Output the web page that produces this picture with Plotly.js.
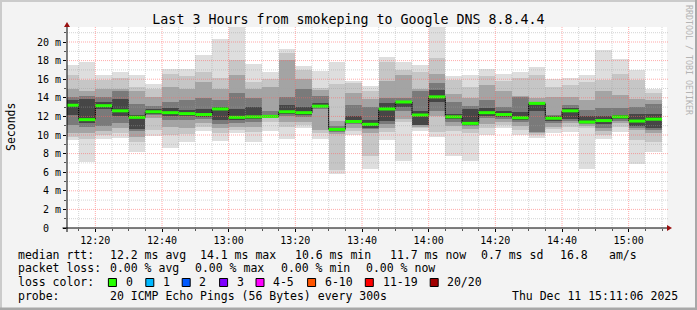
<!DOCTYPE html>
<html><head><meta charset="utf-8">
<script src="https://cdn.plot.ly/plotly-3.0.1.min.js"></script>
<style>html,body{margin:0;padding:0;background:#f3f3f3}#chart{width:697px;height:310px}</style>
</head><body><div id="chart"></div>
<script>
// 5-minute bins (start times)
const binStarts = ["12:10","12:15","12:20","12:25","12:30","12:35","12:40","12:45","12:50","12:55",
  "13:00","13:05","13:10","13:15","13:20","13:25","13:30","13:35","13:40","13:45","13:50","13:55",
  "14:00","14:05","14:10","14:15","14:20","14:25","14:30","14:35","14:40","14:45","14:50","14:55",
  "15:00","15:05"];
// median rtt (ms)
const median = [13.2,11.65,13.15,12.6,11.9,12.5,12.4,12.3,12.2,12.8,11.9,11.95,12.0,12.5,12.4,13.1,10.6,11.45,
  11.15,12.8,13.55,12.15,14.1,11.95,11.25,12.4,12.2,11.85,13.4,11.8,12.6,11.4,11.55,11.95,11.5,11.7];
// smoke bands (ms), outermost = min..max
const pingMax = [17.5,17.8,16.45,16.8,16.45,15.5,17.15,17.1,18.6,20.3,21.9,17.65,16.8,19.2,17.4,16.9,17.8,15.85,
  15.3,18.4,17.9,17.5,21.9,16.35,16.45,17.05,16.55,16.8,17.3,16.0,16.1,16.45,19.1,18.15,17.0,14.95];
const pingMin = [9.5,7.1,9.6,9.7,8.2,9.9,8.65,9.3,10.4,9.4,10.2,9.3,10.4,9.6,10.7,9.6,5.8,10.0,
  6.35,9.5,7.25,10.4,9.8,7.7,7.25,10.0,10.8,10.0,9.7,10.2,10.3,6.35,9.55,10.35,6.85,8.2];
const band2Hi = [16.4,15.9,15.9,16.1,15.2,14.9,16.6,16.3,16.8,16.1,18.1,15.7,16.0,18.8,17.0,15.1,15.5,15.6,
  14.7,17.9,17.0,16.8,18.3,15.9,15.2,16.3,15.8,16.1,16.4,15.2,15.4,15.7,15.9,16.6,15.9,14.5];
const band2Lo = [9.8,9.6,10.0,10.2,9.2,10.5,10.0,10.1,10.9,10.2,10.5,10.3,11.4,10.9,11.1,10.2,6.2,10.4,
  7.7,10.3,11.4,10.7,10.3,10.4,10.2,10.7,11.1,10.5,10.0,10.6,10.9,10.7,10.0,10.9,9.5,9.2];
const band3Hi = [15.0,14.7,15.0,15.0,14.7,14.1,15.2,15.0,15.7,14.9,16.5,14.9,15.2,18.1,16.0,14.8,11.5,14.5,
  13.9,15.8,16.5,15.0,16.6,14.4,14.0,15.4,14.7,14.2,14.0,14.1,14.1,13.8,14.7,14.3,13.9,13.8];
const band3Lo = [10.2,10.2,10.4,10.7,9.8,11.8,10.9,10.8,11.3,10.8,10.9,10.9,11.8,11.4,11.4,10.5,10.1,10.8,
  10.2,10.8,11.7,10.9,12.0,11.0,10.6,11.2,11.4,11.0,10.2,10.9,11.3,11.0,10.4,11.3,10.5,10.2];
const band4Hi = [14.1,14.2,14.1,14.7,13.3,13.1,13.6,13.8,14.0,13.8,14.5,14.0,12.6,14.1,15.0,14.2,11.0,13.2,
  13.0,14.0,14.0,14.7,15.6,13.6,13.1,13.8,13.0,14.1,13.5,12.2,13.2,12.7,12.9,12.9,13.0,13.3];
const band4Lo = [11.1,10.9,11.0,11.3,10.4,12.1,11.6,11.6,11.7,11.2,11.3,11.4,11.9,12.0,11.9,12.8,10.3,11.2,
  10.6,11.2,12.6,11.1,12.6,11.4,11.0,11.8,11.7,11.4,10.3,11.3,11.5,11.2,10.7,11.5,10.7,10.5];
const band5Hi = [13.8,13.9,13.5,13.9,12.2,12.8,12.9,12.7,12.8,13.0,12.8,13.0,12.2,13.2,13.0,13.4,10.8,12.0,
  11.6,13.4,13.7,12.6,14.8,12.3,12.8,12.9,12.6,12.5,13.5,12.0,12.9,12.0,12.0,12.2,12.3,12.3];
const band5Lo = [12.1,11.3,12.8,12.0,10.6,12.3,12.0,12.0,11.9,11.6,11.6,11.7,11.95,12.3,12.2,13.0,10.4,11.3,
  10.8,11.5,13.0,11.1,13.6,11.7,11.1,12.0,11.9,11.6,12.6,11.5,11.7,11.3,11.2,11.7,11.0,10.8];
// axis labels
const yTickVals = [0,2,4,6,8,10,12,14,16,18,20];
const yTickText = ["0\u00a0\u00a0","2 m","4 m","6 m","8 m","10 m","12 m","14 m","16 m","18 m","20 m"];
// legend texts
const legendRtt = [["median rtt:",16],["12.2 ms avg",107.6],["14.1 ms max",198],["10.6 ms min",293],["11.7 ms now",388],["0.7 ms sd",479],["16.8",558],["am/s",607]];
const legendLoss = [["packet loss:",16],["0.00 % avg",107.6],["0.00 % max",193],["0.00 % min",279],["0.00 % now",364.4]];
const lossLabels = ["0","1","2","3","4-5","6-10","11-19","20/20"];
const lossColors = ["#26ff00","#00b8ff","#0059ff","#7e00ff","#ff00ff","#ff5500","#ff0000","#a10000"];
const lossBoxX = [108.4,145.8,182.2,219.6,256,307.6,365.3,430.2];
const probeText = "20 ICMP Echo Pings (56 Bytes) every 300s";
const dateText = "Thu Dec 11 15:11:06 2025";

function t(hm){const p=hm.split(':').map(Number);return Date.UTC(2025,11,11,p[0],p[1],p[2]||0);}
const BIN = 300000;
const xStart = binStarts.map(s=>t(s));
const xCenter = xStart.map(v=>v+BIN/2);

// pixel helpers for decorations
const L=67, W=600, TOP=27, H=201;
const px = x=>(x-L)/W, py = y=>(TOP+H-y)/H;

const layers = [
  {lo:pingMin, hi:pingMax, c:'#dedede'},
  {lo:band2Lo, hi:band2Hi, c:'#c6c6c6'},
  {lo:band3Lo, hi:band3Hi, c:'#a4a4a4'},
  {lo:band4Lo, hi:band4Hi, c:'#7a7a7a'},
  {lo:band5Lo, hi:band5Hi, c:'#464646'}
];
const traces = layers.map(ly=>({
  type:'bar', x:xCenter, base:ly.lo, y:ly.hi.map((h,i)=>h-ly.lo[i]), width:BIN,
  marker:{color:ly.c, line:{width:0}}, hoverinfo:'skip', showlegend:false
}));
const lastEnd = xStart[xStart.length-1]+BIN;
traces.push({type:'scatter', mode:'lines', x:xStart.concat([lastEnd]), y:median.concat([median[median.length-1]]),
  line:{shape:'hv', color:'#000', width:1}, hoverinfo:'skip', showlegend:false});
const gx=[], gy=[];
xStart.forEach((s,i)=>{gx.push(s,s+BIN,null);gy.push(median[i],median[i],null);});
traces.push({type:'scatter', mode:'lines', x:gx, y:gy, line:{color:lossColors[0], width:3}, hoverinfo:'skip', showlegend:false, connectgaps:false});

const shapes = [];
const GRID_MINOR = 'rgba(160,160,160,0.45)', GRID_MAJOR = 'rgba(255,100,100,0.55)';
// grid (drawn above smoke like rrdtool)
for(let v=1; v<=21; v++){
  const major = v%2===0;
  shapes.push({type:'line', xref:'paper', yref:'y', x0:0, x1:px(668), y0:v, y1:v, layer:'above',
    line:{color: major?GRID_MAJOR:GRID_MINOR, width:1, dash:'1px,1px'}});
}
for(let m=t("12:15"); m<=t("15:10"); m+=BIN){
  const major = ((m - t("12:20")) % 1200000)===0;
  shapes.push({type:'line', xref:'x', yref:'paper', x0:m, x1:m, y0:0, y1:1, layer:'above',
    line:{color: major?GRID_MAJOR:GRID_MINOR, width:1, dash:'1px,1px'}});
}
// axes lines & arrows
shapes.push({type:'line', xref:'paper', yref:'paper', x0:px(62.5), x1:px(668), y0:0, y1:0, layer:'above', line:{color:'#000', width:1}});
shapes.push({type:'line', xref:'paper', yref:'paper', x0:0, x1:0, y0:py(232), y1:py(25), layer:'above', line:{color:'#000', width:1}});
shapes.push({type:'path', xref:'paper', yref:'paper', xsizemode:'pixel', ysizemode:'pixel', xanchor:px(667), yanchor:0,
  path:'M 0,-3 L 5,0 L 0,3 Z', fillcolor:'#9a1010', line:{width:0}, layer:'above'});
shapes.push({type:'path', xref:'paper', yref:'paper', xsizemode:'pixel', ysizemode:'pixel', xanchor:0, yanchor:py(27),
  path:'M -3,0 L 3,0 L 0,5 Z', fillcolor:'#9a1010', line:{width:0}, layer:'above'});
// frame
shapes.push({type:'rect', xref:'paper', yref:'paper', x0:px(0), x1:px(697), y0:py(0), y1:py(2), fillcolor:'#cbcbcb', line:{width:0}, layer:'above'});
shapes.push({type:'rect', xref:'paper', yref:'paper', x0:px(0), x1:px(2), y0:py(0), y1:py(310), fillcolor:'#cbcbcb', line:{width:0}, layer:'above'});
shapes.push({type:'rect', xref:'paper', yref:'paper', x0:px(0), x1:px(697), y0:py(307.5), y1:py(310), fillcolor:'#a8a8a8', line:{width:0}, layer:'above'});
shapes.push({type:'rect', xref:'paper', yref:'paper', x0:px(695), x1:px(697), y0:py(0), y1:py(310), fillcolor:'#a8a8a8', line:{width:0}, layer:'above'});
// loss swatches
lossBoxX.forEach((bx,i)=>{
  shapes.push({type:'rect', xref:'paper', yref:'paper', x0:px(bx), x1:px(bx+8), y0:py(286.5), y1:py(278.5),
    fillcolor:lossColors[i], line:{color:'#000', width:1}, layer:'above'});
});

const LF = {family:'DejaVu Sans Mono', size:11.5, color:'#000'};
const ann = [];
function txt(s,x,y,opt){ann.push(Object.assign({text:s, xref:'paper', yref:'paper', x:px(x), y:py(y), xanchor:'left', yanchor:'middle', showarrow:false, font:LF}, opt||{}));}
legendRtt.forEach(a=>txt(a[0],a[1],254.7));
legendLoss.forEach(a=>txt(a[0],a[1],268.3));
txt("loss color:",16,282.3);
lossLabels.forEach((s,i)=>txt(s,lossBoxX[i]+15.2,282.3));
txt("probe:",16,296);
txt(probeText,107.6,296);
txt(dateText,680,296,{xanchor:'right'});
txt("Seconds",11,127,{xanchor:'center', textangle:-90});
txt("RRDTOOL / TOBI OETIKER",689,60,{xanchor:'center', textangle:90, font:{family:'DejaVu Sans Mono', size:8.3, color:'#b4b4b4'}});

const layout = {
  width:697, height:310, margin:{l:L, r:697-L-W, t:TOP, b:310-TOP-H, pad:0},
  paper_bgcolor:'#f3f3f3', plot_bgcolor:'#ffffff',
  barmode:'overlay', bargap:0, showlegend:false,
  font:{family:'DejaVu Sans Mono', size:10, color:'#000'},
  title:{text:'Last 3 Hours from smokeping to Google DNS 8.8.4.4', font:{family:'DejaVu Sans Mono', size:13.3, color:'#000'},
    x:0.5, xanchor:'center', xref:'container', y:1-19/310, yref:'container', yanchor:'middle'},
  xaxis:{type:'date', range:[t("12:11:30"), t("15:11:30")], tickformat:'%H:%M', tick0:t("12:20"), dtick:1200000,
    ticks:'outside', ticklen:3, tickcolor:'#000', tickwidth:1, showgrid:false, zeroline:false, showline:false,
    fixedrange:true, tickfont:{size:10}, automargin:false,
    minor:{dtick:BIN, tick0:t("12:15"), ticks:'outside', ticklen:2, tickcolor:'#555', showgrid:false}},
  yaxis:{range:[0, H/9.3], tickvals:yTickVals, ticktext:yTickText, ticks:'outside', ticklen:3, tickcolor:'#000',
    showgrid:false, zeroline:false, showline:false, fixedrange:true, tickfont:{size:10}, automargin:false,
    minor:{dtick:1, ticks:'outside', ticklen:2, tickcolor:'#555', showgrid:false}},
  shapes:shapes, annotations:ann
};
Plotly.newPlot('chart', traces, layout, {displayModeBar:false, staticPlot:true});
</script></body></html>
